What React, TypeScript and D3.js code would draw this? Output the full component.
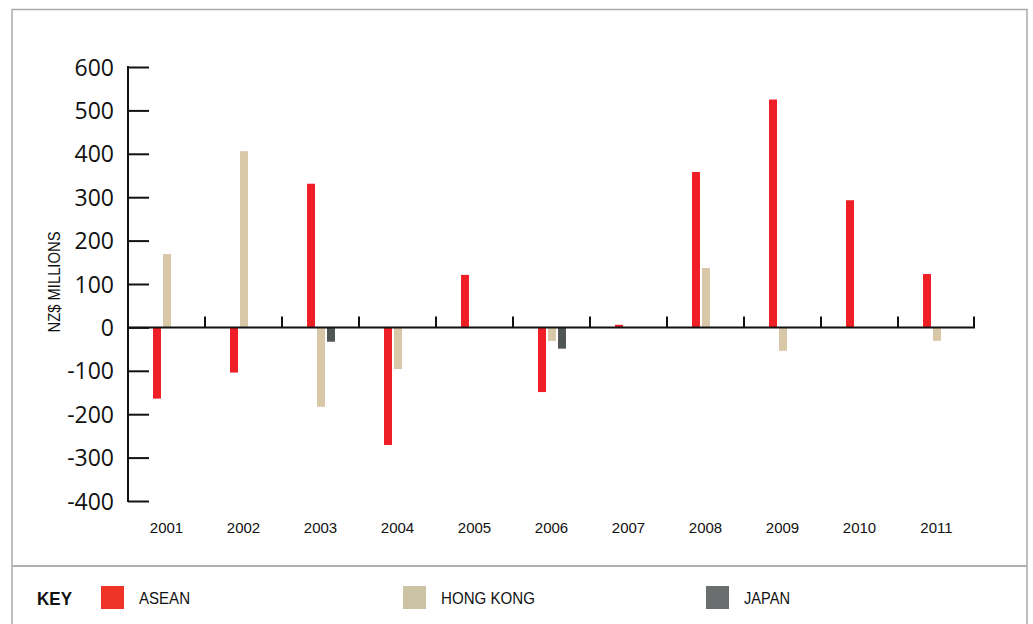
import * as d3 from "d3";
import { useEffect, useRef } from "react";

const years = ["2001", "2002", "2003", "2004", "2005", "2006", "2007", "2008", "2009", "2010", "2011"];
const asean = [-164, -104, 331, -271, 121, -149, 6, 358, 525, 293, 123];
const hongKong = [169, 406, -183, -96, null, -31, null, 137, -54, null, -31];
const japan = [null, null, -33, null, null, -49, null, null, null, null, null];
const yTicks = [600, 500, 400, 300, 200, 100, 0, -100, -200, -300, -400];

const seriesNames = ["ASEAN", "HONG KONG", "JAPAN"];
const barColors = ["#ee1f26", "#d9c8a8", "#4f5655"];
const keyColors = ["#ef3327", "#cbc3a3", "#6b6e6f"];

const W = 1033;
const H = 624;

function App() {
    const svgRef = useRef<SVGSVGElement | null>(null);

    useEffect(() => {
        if (!svgRef.current) return;
        const svg = d3.select(svgRef.current);
        svg.selectAll("*").remove();

        const plot = { left: 128, right: 975, top: 67, bottom: 501 };

        // frame
        svg.append("rect")
            .attr("x", 12).attr("y", 9.5)
            .attr("width", 1027 - 12).attr("height", H + 20)
            .attr("fill", "none").attr("stroke", "#aaaaaa").attr("stroke-width", 1.5);
        svg.append("line")
            .attr("x1", 12).attr("x2", 1027).attr("y1", 566).attr("y2", 566)
            .attr("stroke", "#b0b0b0").attr("stroke-width", 2);

        const x0 = d3.scaleBand<string>().domain(years).range([plot.left, plot.right]);
        const x1 = d3.scaleBand<string>().domain(seriesNames)
            .range([24, 54]).paddingInner(0.2).paddingOuter(0.1);
        const y = d3.scaleLinear().domain([-400, 600]).range([plot.bottom, plot.top]);

        // y axis
        const yAxis = d3.axisRight(y).tickValues(yTicks).tickSize(21).tickFormat(() => "");
        const ya = svg.append("g").attr("transform", `translate(${plot.left},0)`).call(yAxis);
        ya.select(".domain").remove();
        ya.selectAll(".tick line").attr("stroke", "#111").attr("stroke-width", 2);
        svg.append("line")
            .attr("x1", plot.left).attr("x2", plot.left)
            .attr("y1", y(600) - 1).attr("y2", y(-400) + 1)
            .attr("stroke", "#111").attr("stroke-width", 2);

        svg.append("g").selectAll("text").data(yTicks).enter().append("text")
            .attr("x", 114).attr("y", d => y(d) + 8.5)
            .attr("text-anchor", "end")
            .attr("font-family", "Open Sans, sans-serif")
            .attr("font-size", 23)
            .attr("fill", "#111")
            .text(d => `${d}`);

        svg.append("text")
            .attr("transform", "translate(60,282) rotate(-90)")
            .attr("text-anchor", "middle")
            .attr("font-family", "Liberation Sans, Arial, sans-serif")
            .attr("font-size", 16)
            .attr("textLength", 101)
            .attr("lengthAdjust", "spacingAndGlyphs")
            .attr("fill", "#111")
            .text("NZ$ MILLIONS");

        // bars
        const rows = years.map((yr, i) => ({
            year: yr,
            vals: [asean[i], hongKong[i], japan[i]],
        }));
        const groups = svg.append("g").selectAll("g").data(rows).enter().append("g")
            .attr("transform", d => `translate(${x0(d.year)},0)`);
        groups.selectAll("rect")
            .data(d => d.vals.map((v, k) => ({ v, k })).filter(e => e.v !== null))
            .enter().append("rect")
            .attr("x", e => x1(seriesNames[e.k]) ?? 0)
            .attr("width", x1.bandwidth())
            .attr("y", e => y(Math.max(0, e.v as number)))
            .attr("height", e => Math.abs(y(e.v as number) - y(0)))
            .attr("fill", e => barColors[e.k]);

        // x axis at zero
        svg.append("line")
            .attr("x1", plot.left).attr("x2", plot.right)
            .attr("y1", y(0)).attr("y2", y(0))
            .attr("stroke", "#111").attr("stroke-width", 2);
        svg.append("g").selectAll("line").data(years.slice(1).concat(["end"])).enter().append("line")
            .attr("x1", d => d === "end" ? plot.right - 1 : (x0(d) ?? 0))
            .attr("x2", d => d === "end" ? plot.right - 1 : (x0(d) ?? 0))
            .attr("y1", y(0) - 11).attr("y2", y(0))
            .attr("stroke", "#111").attr("stroke-width", 2);

        svg.append("g").selectAll("text").data(years).enter().append("text")
            .attr("x", d => (x0(d) ?? 0) + x0.bandwidth() / 2)
            .attr("y", 533)
            .attr("text-anchor", "middle")
            .attr("font-family", "Liberation Sans, Arial, sans-serif")
            .attr("font-size", 15)
            .attr("fill", "#111")
            .text(d => d);

        // key
        svg.append("text")
            .attr("x", 37).attr("y", 605)
            .attr("font-family", "Liberation Sans, Arial, sans-serif")
            .attr("font-weight", "bold")
            .attr("font-size", 19)
            .attr("textLength", 35)
            .attr("lengthAdjust", "spacingAndGlyphs")
            .attr("fill", "#111")
            .text("KEY");

        const keyX = [101, 403, 706];
        const keyLen = [51, 94, 46];
        seriesNames.forEach((name, k) => {
            svg.append("rect")
                .attr("x", keyX[k]).attr("y", 586)
                .attr("width", 23).attr("height", 23)
                .attr("fill", keyColors[k]);
            svg.append("text")
                .attr("x", keyX[k] + 38).attr("y", 603.5)
                .attr("font-family", "Liberation Sans, Arial, sans-serif")
                .attr("font-size", 16.5)
                .attr("textLength", keyLen[k])
                .attr("lengthAdjust", "spacingAndGlyphs")
                .attr("fill", "#111")
                .text(name);
        });
    }, []);

    return (
        <svg
            ref={svgRef}
            width={W}
            height={H}
            style={{ position: "absolute", left: 0, top: 0, display: "block", background: "#fff" }}
        />
    );
}

export default App;
